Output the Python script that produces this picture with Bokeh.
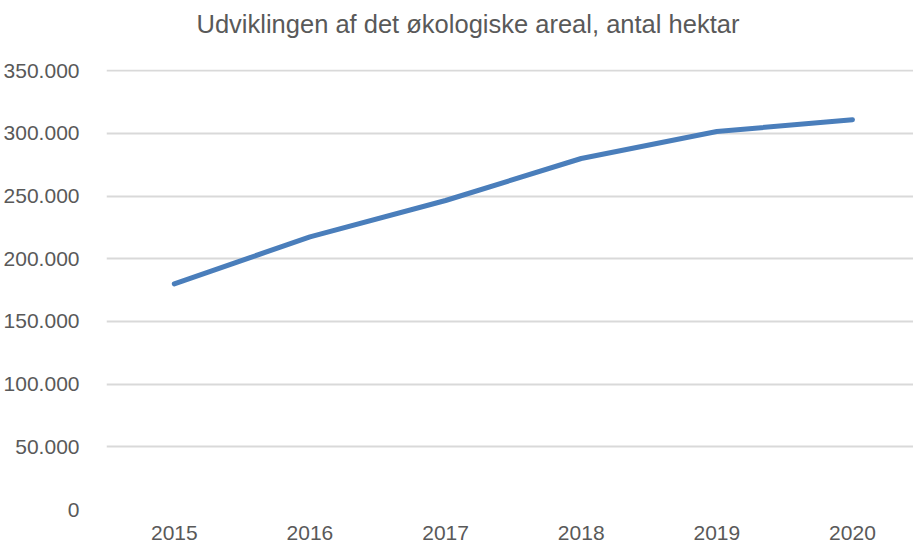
from bokeh.plotting import figure
from bokeh.models import Range1d, CustomJSTickFormatter, ColumnDataSource, FixedTicker, Title
from bokeh.embed import file_html
from bokeh.resources import INLINE

years = [2015, 2016, 2017, 2018, 2019, 2020]
year_labels = ["2015", "2016", "2017", "2018", "2019", "2020"]
hectares = [180000, 217500, 246500, 280000, 301500, 311000]
y_ticks = [0, 50000, 100000, 150000, 200000, 250000, 300000, 350000]
title_text = "Udviklingen af det økologiske areal, antal hektar"

source = ColumnDataSource(data=dict(year=years, value=hectares))

p = figure(width=913, height=544, x_range=Range1d(2014.5, 2020.45), y_range=Range1d(0, 351000),
           output_backend="svg", toolbar_location=None, title_location=None,
           min_border_left=105, min_border_right=0, min_border_top=69, min_border_bottom=35)
p.outline_line_color = None
p.background_fill_color = "white"
p.border_fill_color = "white"

spacer = Title(text=" ", text_font_size="1px", standoff=29)
main_title = Title(text=title_text, text_font="Liberation Sans", text_font_size="25.5px",
                   text_font_style="normal", text_color="#595959", align="left",
                   vertical_align="bottom", offset=90, standoff=0)
p.add_layout(spacer, "above")
p.add_layout(main_title, "above")

p.line(x="year", y="value", source=source, line_color="#4a7ebb", line_width=5,
       line_cap="round", line_join="round")

p.xaxis.ticker = FixedTicker(ticks=years)
p.xaxis.major_label_overrides = {y: lbl for y, lbl in zip(years, year_labels)}
p.yaxis.ticker = y_ticks
p.yaxis.formatter = CustomJSTickFormatter(code="return tick.toString().replace(/\\B(?=(\\d{3})+(?!\\d))/g, '.');")
for ax in (p.xaxis[0], p.yaxis[0]):
    ax.axis_line_color = None
    ax.major_tick_line_color = None
    ax.minor_tick_line_color = None
    ax.major_label_text_font = "Liberation Sans"
    ax.major_label_text_font_size = "21px"
    ax.major_label_text_color = "#595959"
p.yaxis.major_label_standoff = 21
p.xaxis.major_label_standoff = 10

p.xgrid.grid_line_color = None
p.ygrid.grid_line_color = "#d9d9d9"
p.ygrid.grid_line_width = 2

open("out.html", "w").write(file_html(p, INLINE))
